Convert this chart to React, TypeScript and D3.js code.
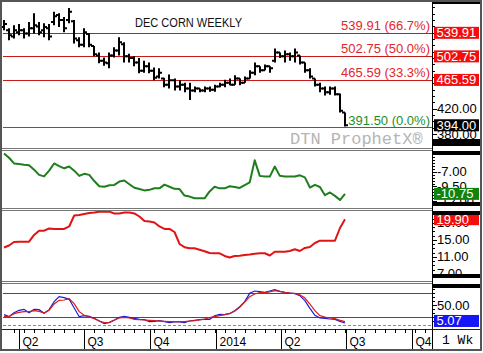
import { useEffect, useRef } from 'react'
import * as d3 from 'd3'

// weekly bars, dated on Mondays
const WEEK_START = new Date(2013, 2, 11)
const WEEK_END = new Date(2014, 5, 30)

const OPEN = [549,544,534,541,544,539,547,550,544,547,557,568,560,560,558,528,521,538,519,504,496,492,504,512,522,503,500,493,480,487,480,471,468,458,465,455,458,452,449,452,449,452,450,455,458,461,458,468,461,468,477,487,481,487,496,509,503,506,503,504,493,481,468,458,452,446,452,443,414]
const HIGH = [560,547,552,554,547,557,571,557,555,554,573,571,565,579,560,533,547,539,519,509,501,509,517,533,525,507,503,500,496,493,485,484,469,474,468,465,461,461,455,452,455,455,458,461,466,468,473,468,471,481,493,487,490,487,515,509,512,509,515,504,493,484,468,461,455,455,455,444,414]
const LOW = [544,528,531,536,531,534,539,536,533,528,552,549,541,555,523,517,517,517,503,492,488,484,501,504,493,493,487,476,477,476,465,468,454,452,449,449,446,434,446,446,446,447,447,454,454,457,458,457,461,468,473,477,481,477,493,500,493,496,493,490,477,468,455,446,441,442,441,414,392]
const CLOSE = [554,536,544,544,539,547,552,541,549,534,566,560,547,573,531,521,541,521,506,496,493,504,512,525,503,500,493,480,487,480,469,477,458,465,455,458,452,449,452,449,452,450,455,458,461,458,468,461,468,477,487,481,487,484,509,503,506,503,509,493,481,471,458,452,446,452,443,417,394]

const GREEN_STUDY = [-3.93,-4.63,-5.60,-5.68,-5.81,-5.89,-6.65,-7.53,-7.79,-6.82,-5.60,-6.04,-6.42,-6.12,-6.82,-7.70,-7.35,-7.53,-8.58,-9.46,-9.54,-9.28,-9.23,-8.67,-8.49,-9.11,-9.72,-9.93,-10.16,-10.07,-9.81,-9.81,-9.19,-9.54,-9.89,-9.93,-11.04,-11.21,-11.49,-11.51,-11.51,-10.33,-9.54,-9.81,-9.81,-9.46,-9.58,-9.75,-9.28,-8.79,-5.07,-7.70,-7.82,-7.82,-6.12,-7.70,-7.79,-7.82,-7.82,-7.61,-7.96,-9.68,-9.23,-9.58,-10.98,-10.51,-11.09,-11.79,-10.75]
const RED_STUDY = [13.24,13.71,14.53,14.60,14.60,14.60,16.18,17.19,17.19,17.71,17.59,17.59,17.59,18.18,20.76,20.88,21.12,21.35,21.47,21.64,21.66,21.66,21.24,21.24,21.47,21.47,21.24,20.53,19.47,19.35,19.12,18.18,17.59,17.59,16.88,14.06,13.31,13.05,13.05,12.72,12.36,11.94,11.87,11.87,11.24,10.88,11.24,11.31,11.47,11.59,11.78,11.87,11.87,11.35,12.25,12.25,12.25,12.41,12.81,12.41,13.12,13.35,14.29,14.84,14.84,14.84,14.84,17.82,19.90]
const STOCH_K = [25.8,20.8,30.8,36.7,39.2,30.8,39.2,38.3,29.2,38.3,58.3,70.8,68.3,64.2,42.5,20.8,23.3,21.7,16.7,10.0,3.3,6.7,12.5,19.2,21.7,19.2,16.7,14.2,13.3,8.3,9.2,10.8,8.3,5.8,7.5,7.5,5.8,10.0,11.7,13.3,14.2,14.2,23.3,26.7,25.8,28.3,35.8,45.8,58.3,79.2,85.0,83.3,81.7,85.0,88.3,84.2,81.7,80.0,78.3,73.3,60.8,41.7,24.2,17.5,16.7,15.0,14.2,9.2,5.07]
const STOCH_D = [20.8,20.8,28.3,31.7,33.3,33.3,35.8,34.2,30.0,36.7,52.5,61.7,62.5,65.8,53.3,33.3,24.2,20.0,15.8,10.0,5.8,5.8,11.7,17.5,19.2,17.5,14.2,13.3,12.5,11.7,10.8,10.0,9.2,8.3,8.3,8.3,8.3,10.0,10.8,12.5,15.0,18.3,20.8,23.3,25.8,29.2,34.2,44.2,57.5,70.8,77.5,80.8,80.8,82.5,85.8,84.2,81.7,80.0,79.2,75.8,67.5,52.5,35.8,23.3,20.0,17.5,15.8,11.7,8.3]

const FIB_LEVELS = [539.91, 502.75, 465.59]
const FIB_PCTS = ['66.7%', '50.0%', '33.3%']
const FIB_BASE = 391.5

const PRICE_TICKS = [380, 420]
const GREEN_TICKS = [-7, -9.5, -12]
const RED_TICKS = [7, 11, 15, 19]
const STOCH_TICKS = [50]
const STOCH_BANDS = [80, 20]

const QUARTER_DATES = [new Date(2013, 3, 1), new Date(2013, 6, 1), new Date(2013, 9, 1), new Date(2014, 0, 1), new Date(2014, 3, 1), new Date(2014, 6, 1), new Date(2014, 9, 1)]
const QUARTER_LABELS = ['Q2', 'Q3', 'Q4', '2014', 'Q2', 'Q3', 'Q4']

const FONT = 'Liberation Sans, Arial, sans-serif'
const MONO = 'Liberation Mono, Courier New, monospace'

export default function App() {
  const svgRef = useRef<SVGSVGElement>(null)

  useEffect(() => {
    const svg = d3.select(svgRef.current)
    svg.selectAll('*').remove()

    const L = 3, R = 432, AX = 480
    const panels = {
      main: [3, 148],
      green: [151, 208],
      red: [211, 281],
      stoch: [284, 329],
    }

    const weeks = d3.timeMonday.range(WEEK_START, d3.timeDay.offset(WEEK_END, 1))
    const x = d3.scaleTime().domain([WEEK_START, WEEK_END]).range([4, 345])

    const yPrice = d3.scaleLinear().domain([358.1, 587]).range([panels.main[1], panels.main[0]])
    const yGreen = d3.scaleLinear().domain([-13.14, -3.49]).range([panels.green[1], panels.green[0]])
    const yRed = d3.scaleLinear().domain([5.35, 21.82]).range([panels.red[1], panels.red[0]])
    const yStoch = d3.scaleLinear().domain([-10, 102.5]).range([panels.stoch[1], panels.stoch[0]])

    svg.append('rect').attr('width', 483).attr('height', 353).attr('fill', '#fff')

    // ---- main price panel
    const g = svg.append('g')
    FIB_LEVELS.forEach((lv, i) => {
      const yy = Math.round(yPrice(lv)) + 0.5
      g.append('line').attr('x1', L).attr('x2', R).attr('y1', yy).attr('y2', yy)
        .attr('stroke', '#c41a1a').attr('stroke-width', 1)
      g.append('text').attr('x', 430).attr('y', yy - 4).attr('text-anchor', 'end')
        .attr('fill', '#e3262c').attr('font-size', 13).attr('font-family', FONT)
        .text(`${lv.toFixed(2)} (${FIB_PCTS[i]})`)
    })
    const yb = Math.round(yPrice(FIB_BASE)) + 0.5
    g.append('line').attr('x1', L).attr('x2', R).attr('y1', yb).attr('y2', yb)
      .attr('stroke', '#1b8a1b').attr('stroke-width', 1)
    g.append('text').attr('x', 430).attr('y', yb - 3).attr('text-anchor', 'end')
      .attr('fill', '#1f8c1f').attr('font-size', 13).attr('font-family', FONT)
      .text(`${FIB_BASE.toFixed(2)} (0.0%)`)

    g.append('text').attr('x', 135).attr('y', 27).attr('font-size', 12).attr('font-family', FONT)
      .attr('textLength', 107).attr('lengthAdjust', 'spacingAndGlyphs').attr('fill', '#111')
      .text('DEC CORN WEEKLY')

    g.append('text').attr('x', 290).attr('y', 144).attr('font-size', 17).attr('font-family', MONO)
      .attr('fill', '#b5b5b5').text('DTN ProphetX®')

    g.selectAll('path.bar').data(weeks).join('path').attr('class', 'bar')
      .attr('d', (d, i) => {
        const cx = Math.round(x(d))
        return `M${cx},${yPrice(HIGH[i])}V${yPrice(LOW[i])}M${cx - 3},${yPrice(OPEN[i])}H${cx}M${cx},${yPrice(CLOSE[i])}H${cx + 3}`
      })
      .attr('stroke', '#000').attr('stroke-width', 2).attr('fill', 'none')

    // ---- green study
    const lineG = d3.line<number>().x((_, i) => x(weeks[i])).y(v => yGreen(v))
    svg.append('path').attr('d', lineG(GREEN_STUDY)).attr('fill', 'none')
      .attr('stroke', '#1e7e1e').attr('stroke-width', 2).attr('stroke-linejoin', 'round')

    // ---- red study
    const lineR = d3.line<number>().x((_, i) => x(weeks[i])).y(v => yRed(v))
    svg.append('path').attr('d', lineR(RED_STUDY)).attr('fill', 'none')
      .attr('stroke', '#e01414').attr('stroke-width', 2).attr('stroke-linejoin', 'round')

    // ---- stochastics
    STOCH_BANDS.forEach(b => {
      const yy = Math.round(yStoch(b)) + 0.5
      svg.append('line').attr('x1', L).attr('x2', R).attr('y1', yy).attr('y2', yy)
        .attr('stroke', '#c41a1a').attr('stroke-width', 1)
    })
    const y0 = Math.round(yStoch(0)) + 0.5
    svg.append('line').attr('x1', L).attr('x2', R).attr('y1', y0).attr('y2', y0)
      .attr('stroke', '#888').attr('stroke-dasharray', '3,2')
    const lineS = d3.line<number>().x((_, i) => x(weeks[i])).y(v => yStoch(v))
    svg.append('path').attr('d', lineS(STOCH_K)).attr('fill', 'none').attr('stroke', '#1c1cd6').attr('stroke-width', 1.2)
    svg.append('path').attr('d', lineS(STOCH_D)).attr('fill', 'none').attr('stroke', '#d81c1c').attr('stroke-width', 1.2)

    // ---- frames and separators
    const frame = svg.append('g')
    ;[148, 208, 281].forEach(yy => {
      frame.append('rect').attr('x', 1).attr('y', yy + 0.5).attr('width', R - 1).attr('height', 2)
        .attr('fill', '#fff').attr('stroke', '#777').attr('stroke-width', 1)
    })
    frame.append('line').attr('x1', 1).attr('x2', R).attr('y1', 329.5).attr('y2', 329.5).attr('stroke', '#222')

    // right axis column
    const axisCol = svg.append('g')
    axisCol.append('rect').attr('x', R).attr('y', 0).attr('width', AX - R).attr('height', 351).attr('fill', '#fff')

    function ticks(scale: d3.ScaleLinear<number, number>, step: number, top: number, bottom: number) {
      const [a, b] = scale.domain()
      const vals = d3.range(Math.ceil(a / step) * step, b, step)
      vals.forEach(v => {
        const yy = Math.round(scale(v)) + 0.5
        if (yy < top + 4 || yy > bottom - 4) return
        axisCol.append('line').attr('x1', R).attr('x2', R + 3).attr('y1', yy).attr('y2', yy).attr('stroke', '#000')
      })
    }
    function label(yy: number, txt: string) {
      axisCol.append('line').attr('x1', R).attr('x2', R + 5).attr('y1', Math.round(yy) + 0.5).attr('y2', Math.round(yy) + 0.5).attr('stroke', '#000')
      axisCol.append('text').attr('x', 437).attr('y', yy + 4.5).attr('font-size', 13).attr('font-family', FONT)
        .attr('fill', '#000').text(txt)
    }
    function box(yy: number, txt: string, fill: string) {
      axisCol.append('rect').attr('x', 434).attr('y', yy - 6).attr('width', 45).attr('height', 12).attr('fill', fill)
      axisCol.append('text').attr('x', 436.5).attr('y', yy + 4.5).attr('font-size', 13).attr('font-family', FONT)
        .attr('fill', '#fff').text(txt)
    }

    ticks(yPrice, 10, ...panels.main as [number, number])
    PRICE_TICKS.forEach(v => label(yPrice(v), v.toFixed(2)))
    FIB_LEVELS.forEach(v => box(yPrice(v), v.toFixed(2), '#f50c0c'))
    box(yPrice(CLOSE[CLOSE.length - 1]), CLOSE[CLOSE.length - 1].toFixed(2), '#000')

    ticks(yGreen, 0.5, ...panels.green as [number, number])
    GREEN_TICKS.forEach(v => label(yGreen(v), v.toFixed(2)))
    box(yGreen(GREEN_STUDY[GREEN_STUDY.length - 1]), GREEN_STUDY[GREEN_STUDY.length - 1].toFixed(2), '#11820f')

    ticks(yRed, 1, ...panels.red as [number, number])
    RED_TICKS.forEach(v => label(yRed(v), v.toFixed(2)))
    box(yRed(RED_STUDY[RED_STUDY.length - 1]), RED_STUDY[RED_STUDY.length - 1].toFixed(2), '#f50c0c')

    ticks(yStoch, 10, ...panels.stoch as [number, number])
    STOCH_TICKS.forEach(v => label(yStoch(v), v.toFixed(2)))
    box(yStoch(STOCH_K[STOCH_K.length - 1]) - 2, STOCH_K[STOCH_K.length - 1].toFixed(2), '#1515f5')

    // black caps in the axis column
    const caps: [number, number][] = [[1, 4], [139, 146], [151, 155], [202, 206], [211, 215], [274, 278], [284, 288]]
    caps.forEach(([a, b]) => {
      axisCol.append('rect').attr('x', R).attr('y', a).attr('width', AX - R).attr('height', b - a).attr('fill', '#000')
    })
    axisCol.append('line').attr('x1', R + 0.5).attr('x2', R + 0.5).attr('y1', 0).attr('y2', 351).attr('stroke', '#000')
    axisCol.append('line').attr('x1', R).attr('x2', AX).attr('y1', 329.5).attr('y2', 329.5).attr('stroke', '#222')

    // ---- time axis
    const xa = svg.append('g')
    d3.timeMonday.every(2)!.range(new Date(2013, 2, 4), new Date(2014, 10, 1)).forEach(d => {
      const xx = Math.round(x(d)) + 0.5
      if (xx < L + 2 || xx > R - 2) return
      xa.append('line').attr('x1', xx).attr('x2', xx).attr('y1', 329).attr('y2', 333).attr('stroke', '#000')
    })
    QUARTER_DATES.forEach((d, i) => {
      const xx = Math.round(x(d)) + 0.5
      xa.append('line').attr('x1', xx).attr('x2', xx).attr('y1', 329).attr('y2', 350).attr('stroke', '#000')
      xa.append('text').attr('x', xx + 3).attr('y', 346).attr('font-size', 12).attr('font-family', FONT)
        .attr('fill', '#000').text(QUARTER_LABELS[i])
    })
    xa.append('text').attr('x', 442).attr('y', 344).attr('font-size', 13).attr('font-family', MONO)
      .attr('fill', '#000').text('1 Wk')

    // outer frame
    svg.append('rect').attr('x', 1).attr('y', 1).attr('width', 480).attr('height', 349)
      .attr('fill', 'none').attr('stroke', '#555').attr('stroke-width', 2)
  }, [])

  return (
    <svg ref={svgRef} width={483} height={353}
      style={{ position: 'absolute', left: 0, top: 0, display: 'block' }} />
  )
}
